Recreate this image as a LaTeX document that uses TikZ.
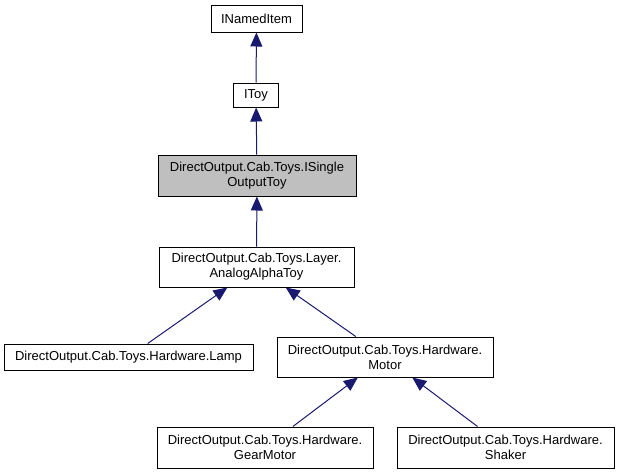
\documentclass[tikz,border=0pt]{standalone}
\usepackage{fontspec}
\setmainfont{Liberation Sans}
\usetikzlibrary{arrows.meta}
\definecolor{edgeblue}{HTML}{191970}
\definecolor{curgray}{HTML}{BFBFBF}
\begin{document}
\begin{tikzpicture}[x=1pt,y=-1pt,font=\fontsize{13}{15}\selectfont,
    >={Triangle[length=14pt,width=12pt]}]
      \tikzset{box/.style={draw, fill=white, line width=1pt, inner sep=0pt, minimum height=40pt, align=center}}
      \useasboundingbox (0,0) rectangle (619,475);
      \node[box, minimum width=91pt, minimum height=27pt] (named) at (256.5,18.5) {INamedItem};
      \node[box, minimum width=45pt, minimum height=24pt] (toy) at (256,95) {IToy};
      \node[box, fill=curgray, minimum width=198pt, minimum height=41pt] (single) at (257,175.5) {DirectOutput.Cab.Toys.ISingle\\OutputToy};
      \node[box, minimum width=195pt] (alpha) at (256.5,267) {DirectOutput.Cab.Toys.Layer.\\AnalogAlphaToy};
      \node[box, minimum width=249pt, minimum height=26pt] (lamp) at (128.5,357) {DirectOutput.Cab.Toys.Hardware.Lamp};
      \node[box, minimum width=216pt] (motor) at (385,357) {DirectOutput.Cab.Toys.Hardware.\\Motor};
      \node[box, minimum width=216pt, minimum height=41pt] (gear) at (265,447.5) {DirectOutput.Cab.Toys.Hardware.\\GearMotor};
      \node[box, minimum width=217pt, minimum height=41pt] (shaker) at (505.5,447.5) {DirectOutput.Cab.Toys.Hardware.\\Shaker};
      \draw[->, edgeblue, line width=1pt] (toy) -- (named);
      \draw[->, edgeblue, line width=1pt] (single) -- (toy);
      \draw[->, edgeblue, line width=1pt] (alpha) -- (single);
      \draw[->, edgeblue, line width=1pt] (lamp) -- (alpha);
      \draw[->, edgeblue, line width=1pt] (motor) -- (alpha);
      \draw[->, edgeblue, line width=1pt] (gear) -- (motor);
      \draw[->, edgeblue, line width=1pt] (shaker) -- (motor);
    \end{tikzpicture}
\end{document}
